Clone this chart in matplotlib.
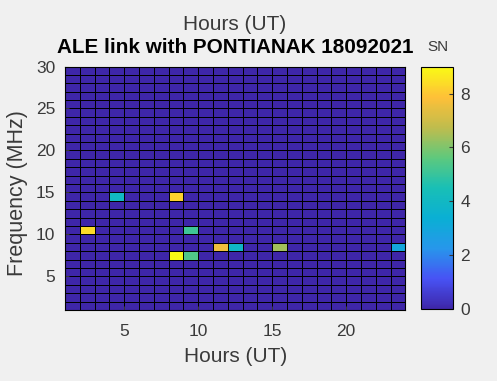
import numpy as np
import matplotlib
matplotlib.use("Agg")
import matplotlib.pyplot as plt
from matplotlib.colors import LinearSegmentedColormap

# grid edges (hours UT, frequency MHz)
hours = np.arange(1, 25)
freqs = np.arange(1, 31)

# links detected: hour, frequency, SN
hit_hours = [2, 4, 8, 8, 9, 9, 11, 12, 15, 23]
hit_freqs = [10, 14, 14, 7, 10, 7, 8, 8, 8, 8]
hit_sn = [8.4, 4.0, 8.2, 9.0, 5.1, 5.4, 7.6, 3.9, 6.4, 3.0]

sn = np.zeros((len(freqs) - 1, len(hours) - 1))
for h, f, v in zip(hit_hours, hit_freqs, hit_sn):
    sn[f - 1, h - 1] = v

# parula-like colormap
parula = LinearSegmentedColormap.from_list("parula", [
    (0.000, (0.2422, 0.1504, 0.6603)),
    (0.125, (0.2810, 0.3228, 0.9579)),
    (0.250, (0.1540, 0.5902, 0.9218)),
    (0.375, (0.0383, 0.6873, 0.8308)),
    (0.500, (0.0964, 0.7500, 0.7120)),
    (0.625, (0.3686, 0.7883, 0.4897)),
    (0.750, (0.7521, 0.7385, 0.3011)),
    (0.875, (0.9956, 0.7525, 0.2211)),
    (1.000, (0.9769, 0.9839, 0.0805)),
])

plt.rcParams['font.family'] = ['Liberation Sans', 'DejaVu Sans']
grey = '#3a3a3a'

fig = plt.figure(figsize=(4.97, 3.81), dpi=100, facecolor='#f0f0f0')
ax = fig.add_axes([0.1308, 0.1864, 0.685, 0.639])
mesh = ax.pcolormesh(hours, freqs, sn, cmap=parula, vmin=0, vmax=max(hit_sn),
                     edgecolors='black', linewidth=0.7)
ax.set_xlim(1, 24)
ax.set_ylim(1, 30)
ax.set_xticks([5, 10, 15, 20])
ax.set_yticks([5, 10, 15, 20, 25, 30])
ax.tick_params(direction='in', length=3, labelsize=12.5, colors=grey)
ax.tick_params(axis='x', pad=10)
ax.tick_params(axis='y', pad=7)
ax.set_xlabel('Hours (UT)', fontsize=15, color=grey, labelpad=6)
ax.set_ylabel('Frequency (MHz)', fontsize=15.5, color=grey)
ax.yaxis.set_label_coords(-0.108, 0.48)
ax.set_title('ALE link with PONTIANAK 18092021', fontsize=14.9, fontweight='bold', pad=10)
fig.text(0.473, 0.937, 'Hours (UT)', fontsize=15, color=grey, ha='center', va='center')

cax = fig.add_axes([0.847, 0.1883, 0.0654, 0.637])
cb = fig.colorbar(mesh, cax=cax, ticks=[0, 2, 4, 6, 8])
cb.outline.set_linewidth(0.8)
cax.tick_params(direction='in', length=3, labelsize=12.5, colors=grey, pad=5)
fig.text(0.881, 0.877, 'SN', fontsize=11, color=grey, ha='center', va='center')

fig.savefig('out.png', dpi=100, facecolor=fig.get_facecolor())
